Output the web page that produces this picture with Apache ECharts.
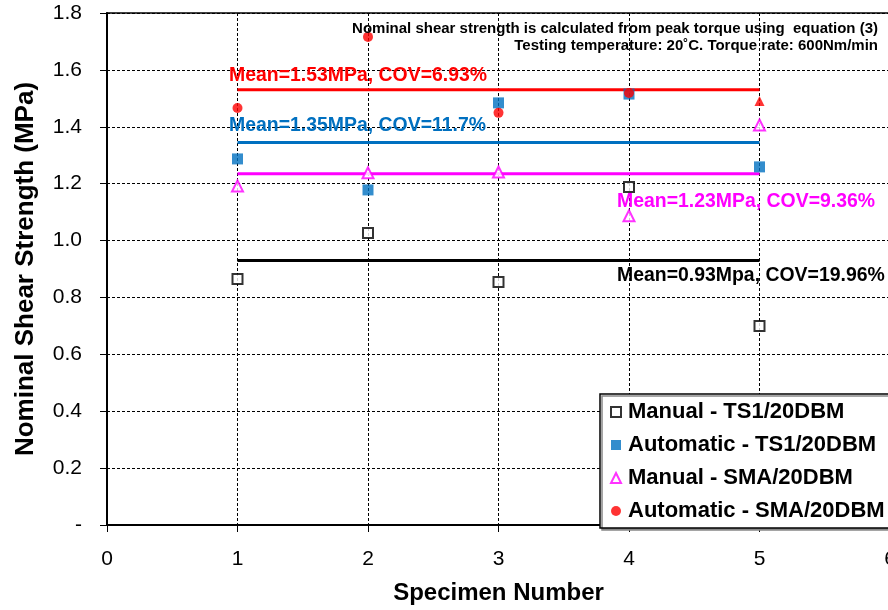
<!DOCTYPE html>
<html>
<head>
<meta charset="utf-8">
<script src="https://cdn.jsdelivr.net/npm/echarts@6/dist/echarts.min.js"></script>
<style>html,body{margin:0;padding:0;background:#fff}#c{width:888px;height:610px}</style>
</head>
<body>
<div id="c"></div>
<script>
var specimens = [1, 2, 3, 4, 5];
var manualTS1 = [0.865, 1.027, 0.854, 1.188, 0.700];
var autoTS1 = [1.287, 1.178, 1.484, 1.515, 1.259];
var manualSMA = [1.192, 1.238, 1.241, 1.087, 1.406];
var autoSMA = [1.466, 1.716, 1.449, 1.519, 1.491];
var meanValues = [0.93, 1.345, 1.235, 1.53];
var meanLabels = ['Mean=0.93Mpa, COV=19.96%', 'Mean=1.35MPa, COV=11.7%', 'Mean=1.23MPa, COV=9.36%', 'Mean=1.53MPa, COV=6.93%'];
var seriesNames = ['Manual - TS1/20DBM', 'Automatic - TS1/20DBM', 'Manual - SMA/20DBM', 'Automatic - SMA/20DBM'];
var yTicks = [0, 0.2, 0.4, 0.6, 0.8, 1.0, 1.2, 1.4, 1.6, 1.8];
var noteLines = ['Nominal shear strength is calculated from peak torque using  equation (3)', 'Testing temperature: 20\u02daC. Torque rate: 600Nm/min'];

var FONT = "'Liberation Sans', Arial, Helvetica, sans-serif";
var BLUE = '#0070C0', MAG = '#FF00FF', RED = '#FF0000';

function pairs(vals) { return specimens.map(function (s, i) { return [s, vals[i]]; }); }
function meanLine(m) { return [[specimens[0], m], [specimens[specimens.length - 1], m]]; }

var chart = echarts.init(document.getElementById('c'));
var redData = pairs(autoSMA).map(function (p, i) {
  return i === 4 ? { value: p, symbol: 'triangle', symbolSize: 10 } : p;
});

function meanText(idx, x, y, color) {
  return { type: 'text', x: x, y: y, scaleX: 0.925, z: 10,
    style: { text: meanLabels[idx], fill: color, font: 'bold 21px ' + FONT, textVerticalAlign: 'middle' } };
}

chart.setOption({
  animation: false,
  textStyle: { fontFamily: FONT },
  grid: { left: 107, right: -2, top: 13, bottom: 85, outerBoundsMode: 'none', containLabel: false,
    show: true, borderColor: '#000', borderWidth: 1.5, backgroundColor: 'transparent' },
  xAxis: {
    type: 'value', min: 0, max: 6, interval: 1,
    name: 'Specimen Number', nameLocation: 'middle', nameGap: 56,
    nameTextStyle: { fontSize: 24, fontWeight: 'bold', color: '#000', fontFamily: FONT },
    axisLine: { lineStyle: { color: '#000', width: 2 } },
    axisTick: { show: true, length: 7, lineStyle: { color: '#000', width: 1 } },
    axisLabel: { fontSize: 21, color: '#000', margin: 24, fontFamily: FONT },
    splitLine: { show: true, lineStyle: { color: '#000', width: 1, type: [3, 2] } }
  },
  yAxis: {
    type: 'value', min: 0, max: 1.8, interval: 0.2,
    name: 'Nominal Shear Strength (MPa)', nameLocation: 'middle', nameGap: 68, nameRotate: 90,
    nameTextStyle: { fontSize: 26, fontWeight: 'bold', color: '#000', fontFamily: FONT },
    axisLine: { show: true, lineStyle: { color: '#000', width: 2 } },
    axisTick: { show: true, length: 7, lineStyle: { color: '#000', width: 1 } },
    axisLabel: {
      fontSize: 21, color: '#000', margin: 25, fontFamily: FONT,
      formatter: function (v) { return Math.abs(v) < 1e-9 ? '-' : v.toFixed(1); }
    },
    splitLine: { show: true, lineStyle: { color: '#000', width: 1, type: [3, 2] } }
  },
  legend: {
    data: seriesNames,
    orient: 'vertical', left: 600, top: 394,
    padding: [7, 24, 6, 10], itemGap: 11, itemWidth: 10, itemHeight: 10,
    backgroundColor: '#fff', borderColor: '#000', borderWidth: 1.5,
    shadowColor: '#888', shadowOffsetX: 2, shadowOffsetY: 2, shadowBlur: 0,
    textStyle: { fontSize: 22, fontWeight: 'bold', color: '#000', lineHeight: 22, fontFamily: FONT, padding: [0, 0, 0, 2] }
  },
  series: [
    { type: 'line', data: meanLine(meanValues[0]), symbol: 'none', lineStyle: { color: '#000', width: 3 }, itemStyle: { color: '#000' }, z: 2, silent: true },
    { type: 'line', data: meanLine(meanValues[1]), symbol: 'none', lineStyle: { color: BLUE, width: 3 }, itemStyle: { color: BLUE }, z: 2, silent: true },
    { type: 'line', data: meanLine(meanValues[2]), symbol: 'none', lineStyle: { color: MAG, width: 3 }, itemStyle: { color: MAG }, z: 2, silent: true },
    { type: 'line', data: meanLine(meanValues[3]), symbol: 'none', lineStyle: { color: RED, width: 3 }, itemStyle: { color: RED }, z: 2, silent: true },
    { name: seriesNames[0], type: 'scatter', data: pairs(manualTS1), symbol: 'rect', symbolSize: 10,
      itemStyle: { color: '#fff', borderColor: '#000', borderWidth: 2 }, z: 3 },
    { name: seriesNames[1], type: 'scatter', data: pairs(autoTS1), symbol: 'rect', symbolSize: 11,
      itemStyle: { color: BLUE }, z: 3 },
    { name: seriesNames[2], type: 'scatter', data: pairs(manualSMA), symbol: 'triangle', symbolSize: 11,
      itemStyle: { color: '#fff', borderColor: MAG, borderWidth: 2 }, z: 3 },
    { name: seriesNames[3], type: 'scatter', data: redData, symbol: 'circle', symbolSize: 10,
      itemStyle: { color: RED }, z: 3 }
  ],
  graphic: [
    meanText(3, 229, 75, RED),
    meanText(1, 229, 125, BLUE),
    meanText(2, 617, 201, MAG),
    meanText(0, 617, 275, '#000'),
    { type: 'text', right: 10, top: 21, z: 10, style: { text: noteLines[0], fill: '#000', font: 'bold 15px ' + FONT, textAlign: 'right' } },
    { type: 'text', right: 10, top: 38, z: 10, style: { text: noteLines[1], fill: '#000', font: 'bold 15px ' + FONT, textAlign: 'right' } }
  ]
});
</script>
</body>
</html>
